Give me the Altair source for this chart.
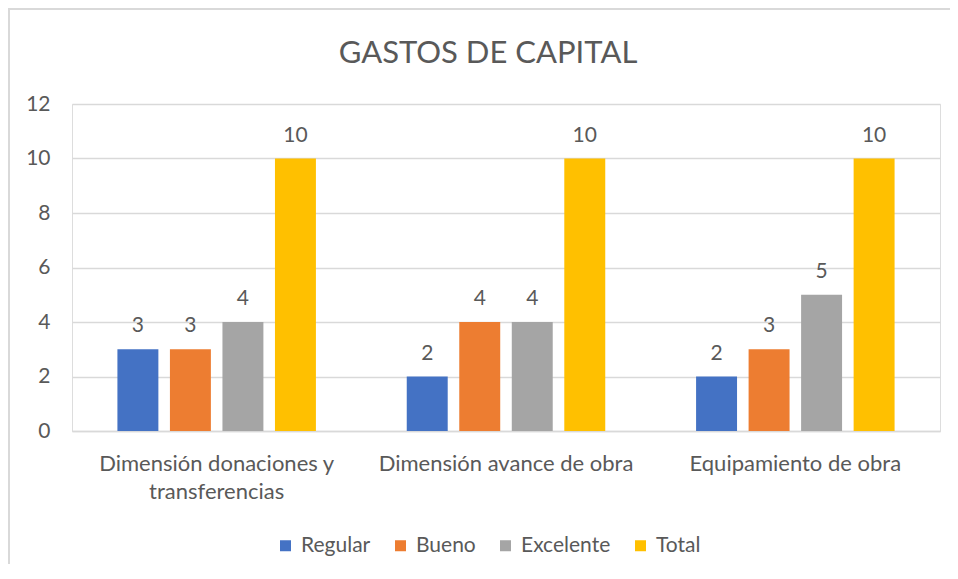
import altair as alt
import pandas as pd

categories = ["Dimensión donaciones y\ntransferencias", "Dimensión avance de obra", "Equipamiento de obra"]
series = ["Regular", "Bueno", "Excelente", "Total"]
regular = [3, 2, 2]
bueno = [3, 4, 3]
excelente = [4, 4, 5]
total = [10, 10, 10]
colors = ["#4472C4", "#ED7D31", "#A5A5A5", "#FFC000"]
y_ticks = [0, 2, 4, 6, 8, 10, 12]

rows = []
for i, c in enumerate(categories):
    for s, vals in zip(series, [regular, bueno, excelente, total]):
        rows.append({"cat": c, "serie": s, "valor": vals[i]})
df = pd.DataFrame(rows)

FONT = "Lato"
GREY = "#595959"
FS = 21

x_enc = alt.X("cat:N", sort=categories, title=None,
              scale=alt.Scale(paddingInner=0.274, paddingOuter=0.137),
              axis=alt.Axis(labelAngle=0, labelFontSize=22, labelColor=GREY, labelFont=FONT,
                            labelPadding=22, ticks=False, tickSize=0, domain=True,
                            domainColor="#D9D9D9", domainWidth=1.5, grid=False, labelLimit=0,
                            labelExpr="split(datum.label, '\\n')", labelLineHeight=28))
xo_enc = alt.XOffset("serie:N", sort=series,
                     scale=alt.Scale(paddingInner=0.22, paddingOuter=0.11))
y_enc = alt.Y("valor:Q", title=None,
              scale=alt.Scale(domain=[0, 12]),
              axis=alt.Axis(values=y_ticks, labelFontSize=FS, labelColor=GREY, labelFont=FONT,
                            labelPadding=22, ticks=False, tickSize=0, domain=False,
                            gridColor="#D9D9D9", gridWidth=1.5))

bars = alt.Chart(df).mark_bar().encode(
    x=x_enc, xOffset=xo_enc, y=y_enc,
    color=alt.Color("serie:N", sort=series, scale=alt.Scale(domain=series, range=colors),
                    legend=alt.Legend(title=None, orient="none", direction="horizontal",
                                      legendX=203, legendY=431, symbolType="square",
                                      symbolSize=121, symbolStrokeWidth=0,
                                      labelFontSize=21, labelColor=GREY, labelFont=FONT,
                                      labelOffset=5, columnPadding=19)),
)

labels = alt.Chart(df).mark_text(fontSize=FS, font=FONT, color=GREY, dy=-17,
                                 baseline="alphabetic").encode(
    x=alt.X("cat:N", sort=categories), xOffset=alt.XOffset("serie:N", sort=series),
    y="valor:Q", text="valor:Q")

border_df = pd.DataFrame({"k": [0]})
left_border = alt.Chart(border_df).mark_rule(color="#D9D9D9", strokeWidth=2).encode(
    x=alt.value(-63), y=alt.value(-96), y2=alt.value(460))
top_border = alt.Chart(border_df).mark_rule(color="#D9D9D9", strokeWidth=2).encode(
    x=alt.value(-64), x2=alt.value(878), y=alt.value(-95))

chart = (bars + labels + left_border + top_border).properties(
    width=868, height=327,
    title=alt.TitleParams("GASTOS DE CAPITAL", fontSize=31, font=FONT, color=GREY,
                          fontWeight="normal", anchor="middle", offset=0, dx=-18, dy=87,
                          baseline="alphabetic"),
    autosize=alt.AutoSizeParams(type="none"),
    padding={"left": 64, "top": 96, "right": 10, "bottom": 140},
).configure_view(stroke="transparent", strokeWidth=0).configure(background="white")

chart.save("out.html", embed_options={"renderer": "svg", "actions": False})
